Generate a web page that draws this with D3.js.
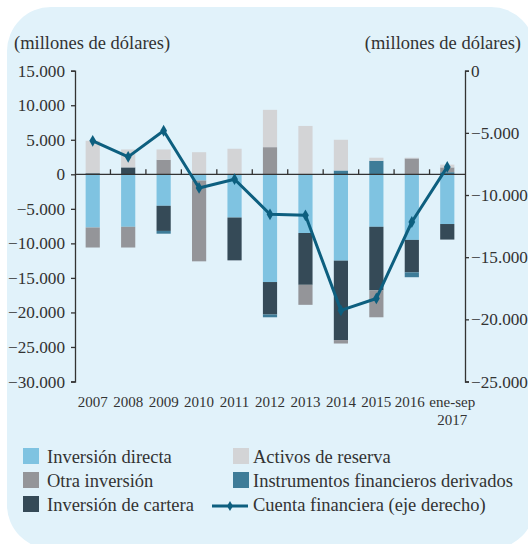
<!DOCTYPE html>
<html>
<head>
<meta charset="utf-8">
<script src="https://cdn.jsdelivr.net/npm/d3@7"></script>
<style>
  body { margin: 0; background: #fff; }
  svg { display: block; font-family: "Liberation Serif", "DejaVu Serif", serif; }
</style>
</head>
<body>
<svg id="chart" width="528" height="544"></svg>
<script>
// categories and series (millones de dólares)
const years = ["2007", "2008", "2009", "2010", "2011", "2012", "2013", "2014", "2015", "2016", "ene-sep|2017"]
const directa   = [-7700, -7600, -4560, -900, -6260, -15600, -8500, -12500, -7600, -9500, -7200]
const cartera   = [150, 1000, -3640, 0, -6200, -4700, -7500, -11500, -9200, -4700, -2250]
const derivados = [0, 0, -400, 0, 0, -400, 0, 550, 1950, -700, 300]
const otra      = [-2900, -3000, 2100, -11700, 0, 3930, -2900, -500, -3900, 2300, 700]
const reservas  = [4700, 2600, 1500, 3200, 3700, 5400, 7000, 4450, 450, 100, 400]
const cuenta    = [-5640, -6930, -4830, -9430, -8730, -11550, -11630, -19280, -18320, -12170, -7740]

const leftTicks = [15000, 10000, 5000, 0, -5000, -10000, -15000, -20000, -25000, -30000]
const rightTicks = [0, -5000, -10000, -15000, -20000, -25000]

const series = [
  { key: "directa", name: "Inversión directa", color: "#7fc3e1", values: directa },
  { key: "cartera", name: "Inversión de cartera", color: "#354a57", values: cartera },
  { key: "derivados", name: "Instrumentos financieros derivados", color: "#3e7c98", values: derivados },
  { key: "otra", name: "Otra inversión", color: "#949599", values: otra },
  { key: "reservas", name: "Activos de reserva", color: "#d3d4d6", values: reservas }
]
const lineColor = "#0d5f7f"
const textColor = "#333333"
const serif = "'Liberation Serif', 'DejaVu Serif', serif"

const table = years.map((yr, i) => {
  const row = { year: yr }
  series.forEach(s => row[s.key] = s.values[i])
  return row
})

const svg = d3.select("#chart")
const fmt = v => d3.format(",")(v).replace(/,/g, ".")

// rounded background panel
svg.append("rect")
    .attr("x", 7).attr("y", 7)
    .attr("width", 528).attr("height", 542)
    .attr("rx", 44)
    .attr("fill", "#e1f2fa")

const plotLeft = 75, plotRight = 465, plotTop = 70.7, plotBottom = 381.5

const x = d3.scaleBand()
    .domain(years)
    .range([plotLeft, plotRight])
    .paddingInner(0.6)
    .paddingOuter(0.3)

const y = d3.scaleLinear().domain([-30000, 15000]).range([plotBottom, plotTop])
const y2 = d3.scaleLinear().domain([-25000, 0]).range([plotBottom, plotTop])

const stack = d3.stack()
    .keys(series.map(s => s.key))
    .offset(d3.stackOffsetDiverging)
const stacked = stack(table)

svg.append("g")
  .selectAll("g")
  .data(stacked)
  .join("g")
    .attr("fill", (d, i) => series[i].color)
  .selectAll("rect")
  .data(d => d)
  .join("rect")
    .attr("x", d => x(d.data.year))
    .attr("width", x.bandwidth())
    .attr("y", d => y(Math.max(d[0], d[1])))
    .attr("height", d => Math.abs(y(d[0]) - y(d[1])))

// zero line with category separators
const zero = svg.append("g").attr("stroke", textColor).attr("stroke-width", 1.3)
zero.append("line")
    .attr("x1", plotLeft).attr("x2", plotRight)
    .attr("y1", y(0)).attr("y2", y(0))
zero.selectAll(".sep")
  .data(years.slice(1))
  .join("line")
    .attr("x1", d => x(d) - x.step() * 0.3)
    .attr("x2", d => x(d) - x.step() * 0.3)
    .attr("y1", y(0)).attr("y2", y(0) - 5)

function styleAxis(g) {
  g.attr("font-family", serif).attr("font-size", 17.2)
  g.select(".domain").attr("stroke", textColor).attr("stroke-width", 1.3)
  g.selectAll(".tick line").attr("stroke", textColor).attr("stroke-width", 1.3)
  g.selectAll("text").attr("fill", textColor)
}

// left axis
svg.append("g")
    .attr("transform", `translate(${plotLeft},0)`)
    .call(d3.axisLeft(y).tickValues(leftTicks).tickFormat(fmt).tickSize(4).tickPadding(6))
    .call(styleAxis)

// right axis
svg.append("g")
    .attr("transform", `translate(${plotRight},0)`)
    .call(d3.axisRight(y2).tickValues(rightTicks).tickFormat(fmt).tickSize(4).tickPadding(2))
    .call(styleAxis)

// category labels
const xl = svg.append("g")
  .selectAll("text")
  .data(years)
  .join("text")
    .attr("text-anchor", "middle")
    .attr("fill", textColor)
    .attr("font-size", 15)
    .attr("x", (d, i) => x(d) + x.bandwidth() / 2 + (i === years.length - 1 ? 5 : i === years.length - 2 ? -2 : 0))
    .attr("y", 407)
xl.selectAll("tspan")
  .data(d => d.split("|"))
  .join("tspan")
    .attr("x", function () { return d3.select(this.parentNode).attr("x") })
    .attr("dy", (d, i) => i ? 18 : 0)
    .text(d => d)

// axis titles
svg.append("text")
    .attr("x", 14).attr("y", 49)
    .attr("fill", textColor).attr("font-size", 18.5)
    .text("(millones de dólares)")
svg.append("text")
    .attr("x", 521).attr("y", 49)
    .attr("text-anchor", "end")
    .attr("fill", textColor).attr("font-size", 18.5)
    .text("(millones de dólares)")

// financial account line (right axis)
const cx = i => x(years[i]) + x.bandwidth() / 2
svg.append("path")
    .datum(cuenta)
    .attr("fill", "none")
    .attr("stroke", lineColor)
    .attr("stroke-width", 3)
    .attr("stroke-linejoin", "round")
    .attr("d", d3.line().x((d, i) => cx(i)).y(d => y2(d)))

svg.append("g")
  .selectAll("path")
  .data(cuenta)
  .join("path")
    .attr("transform", (d, i) => `translate(${cx(i)},${y2(d)})`)
    .attr("d", d3.symbol(d3.symbolDiamond, 40))
    .attr("fill", lineColor)

// legend
const legendItems = [
  { s: series[0], col: 0, row: 0 },
  { s: series[4], col: 1, row: 0 },
  { s: series[3], col: 0, row: 1 },
  { s: series[2], col: 1, row: 1 },
  { s: series[1], col: 0, row: 2 }
]
const legend = svg.append("g").attr("font-size", 18.5).attr("fill", textColor)
const colX = [23, 233], rowY = [448, 472, 496]
legendItems.forEach(({ s, col, row }) => {
  legend.append("rect")
      .attr("x", colX[col]).attr("y", rowY[row])
      .attr("width", 16).attr("height", 16)
      .attr("fill", s.color)
  legend.append("text")
      .attr("x", colX[col] + (col ? 20 : 24)).attr("y", rowY[row] + 15)
      .text(s.name)
})
legend.append("line")
    .attr("x1", 212).attr("x2", 248)
    .attr("y1", rowY[2] + 10).attr("y2", rowY[2] + 10)
    .attr("stroke", lineColor).attr("stroke-width", 3)
legend.append("path")
    .attr("transform", `translate(230,${rowY[2] + 10})`)
    .attr("d", d3.symbol(d3.symbolDiamond, 30))
    .attr("fill", lineColor)
legend.append("text")
    .attr("x", 253).attr("y", rowY[2] + 15)
    .text("Cuenta financiera (eje derecho)")
</script>
</body>
</html>
